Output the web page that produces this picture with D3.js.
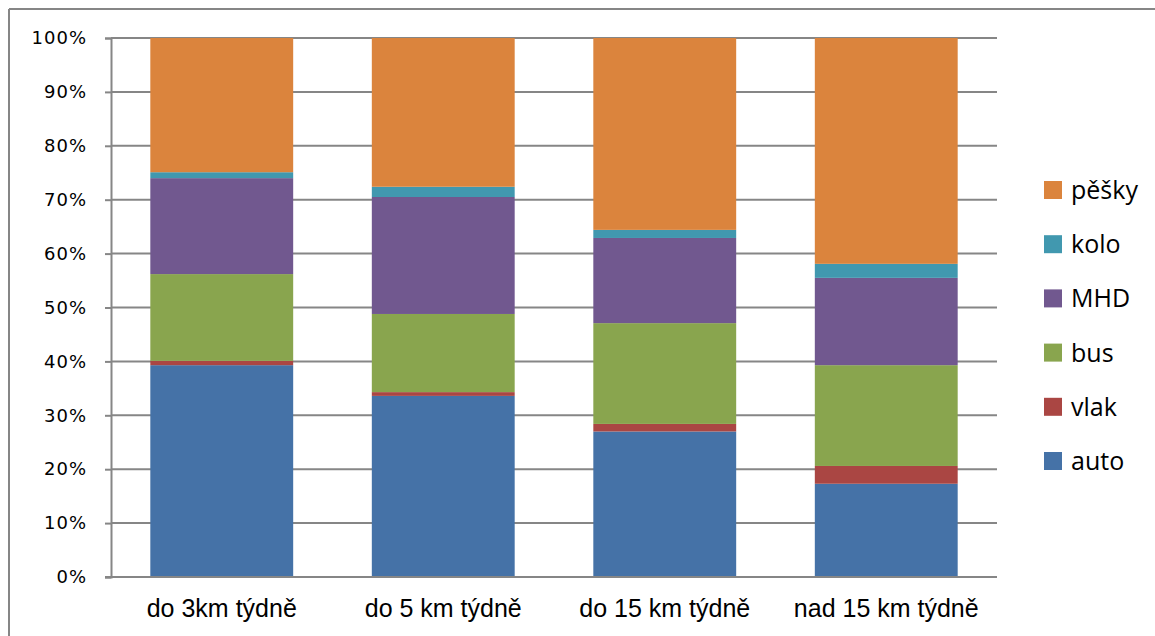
<!DOCTYPE html>
<html>
<head>
<meta charset="utf-8">
<script src="https://cdn.jsdelivr.net/npm/d3@7/dist/d3.min.js"></script>
<style>
  html, body { margin: 0; padding: 0; background: #fff; }
  svg { display: block; }
</style>
</head>
<body>
<svg id="chart" width="1155" height="636"></svg>
<script>
// Categories (weekly distance) and transport-mode shares in percent
const categories = ["do 3km týdně", "do 5 km týdně", "do 15 km týdně", "nad 15 km týdně"];
const seriesNames = ["auto", "vlak", "bus", "MHD", "kolo", "pěšky"];
const auto  = [39.3, 33.6, 27.0, 17.3];
const vlak  = [0.8, 0.7, 1.4, 3.3];
const bus   = [16.1, 14.5, 18.7, 18.7];
const mhd   = [17.8, 21.7, 15.8, 16.2];
const kolo  = [1.1, 1.9, 1.5, 2.6];
const pesky = [24.9, 27.6, 35.6, 41.9];
const yTicks = [0, 10, 20, 30, 40, 50, 60, 70, 80, 90, 100];
const colors = ["#4572A7", "#AA4643", "#89A54E", "#71588F", "#4198AF", "#DB843D"];

const seriesValues = [auto, vlak, bus, mhd, kolo, pesky];
const rows = categories.map((c, i) => {
  const r = { cat: c };
  seriesNames.forEach((s, k) => { r[s] = seriesValues[k][i]; });
  return r;
});

const svg = d3.select("#chart");
const gridColor = "#868686";

// outer chart frame (top and left edges)
svg.append("line").attr("x1", 9).attr("x2", 1155).attr("y1", 9).attr("y2", 9)
  .attr("stroke", gridColor).attr("stroke-width", 2);
svg.append("line").attr("x1", 9).attr("x2", 9).attr("y1", 9).attr("y2", 636)
  .attr("stroke", gridColor).attr("stroke-width", 2);

const plot = { left: 111, right: 997, top: 38, bottom: 577 };

const x = d3.scaleBand().domain(categories)
  .range([plot.left, plot.right]).paddingInner(0.355).paddingOuter(0.1775);
const y = d3.scaleLinear().domain([0, 100]).range([plot.bottom, plot.top]);

// horizontal gridlines
svg.append("g").selectAll("line").data(yTicks.filter(t => t > 0)).join("line")
  .attr("x1", plot.left).attr("x2", plot.right)
  .attr("y1", d => y(d)).attr("y2", d => y(d))
  .attr("stroke", gridColor).attr("stroke-width", 2);

// stacked bars
const stack = d3.stack().keys(seriesNames)(rows);
svg.append("g").selectAll("g").data(stack).join("g")
  .attr("fill", (d, i) => colors[i])
  .selectAll("rect").data(d => d).join("rect")
  .attr("x", d => x(d.data.cat))
  .attr("width", x.bandwidth())
  .attr("y", d => y(Math.min(100, d[1])))
  .attr("height", d => y(d[0]) - y(Math.min(100, d[1])));

// y axis
const yAxis = svg.append("g").attr("transform", `translate(${plot.left},0)`)
  .call(d3.axisLeft(y).tickValues(yTicks).tickFormat(d => d + "%").tickSize(6).tickPadding(18));
yAxis.select(".domain").attr("stroke", gridColor).attr("stroke-width", 2);
yAxis.selectAll(".tick line").attr("stroke", gridColor).attr("stroke-width", 2);
yAxis.selectAll(".tick text")
  .attr("font-family", "DejaVu Sans, sans-serif").attr("font-size", 18)
  .attr("fill", "#000").attr("letter-spacing", 1);

// x axis
const xAxis = svg.append("g").attr("transform", `translate(0,${plot.bottom})`)
  .call(d3.axisBottom(x).tickSize(0).tickPadding(22));
xAxis.select(".domain").attr("stroke", gridColor).attr("stroke-width", 2)
  .attr("d", `M${plot.left - 6},0H${plot.right}`);
xAxis.selectAll(".tick text")
  .attr("font-family", "Liberation Sans Narrow, Arial Narrow, sans-serif")
  .attr("font-size", 25).attr("fill", "#000");

// legend (top entry is the top of the stack)
const legendItems = seriesNames.map((s, i) => ({ name: s, color: colors[i] })).reverse();
const legend = svg.append("g").attr("transform", "translate(1044,181)");
const li = legend.selectAll("g").data(legendItems).join("g")
  .attr("transform", (d, i) => `translate(0,${i * 54.2})`);
li.append("rect").attr("width", 18).attr("height", 18).attr("fill", d => d.color);
li.append("text").attr("x", 27).attr("y", 9).attr("dy", "0.36em")
  .attr("font-family", "Open Sans, sans-serif").attr("font-size", 25)
  .attr("fill", "#000").text(d => d.name);
</script>
</body>
</html>
